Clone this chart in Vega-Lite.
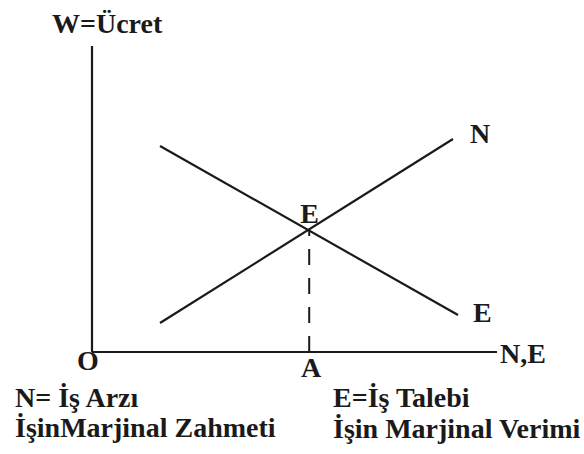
{
  "$schema": "https://vega.github.io/schema/vega-lite/v6.json",
  "width": 584,
  "height": 454,
  "autosize": {"type": "fit", "contains": "padding"},
  "padding": 0,
  "background": "white",
  "config": {"view": {"stroke": null}},
  "datasets": {
    "segments": [
      {"name": "W axis", "x1": 0, "y1": 0, "x2": 0, "y2": 7.65},
      {"name": "N,E axis", "x1": 0, "y1": 0, "x2": 10.125, "y2": 0},
      {"name": "N", "x1": 1.7, "y1": 0.725, "x2": 9.025, "y2": 5.325},
      {"name": "E", "x1": 1.7, "y1": 5.15, "x2": 9.15, "y2": 0.925}
    ],
    "guide": [
      {"name": "A", "x1": 5.43, "y1": 0, "x2": 5.43, "y2": 3.05}
    ],
    "labels": [
      {"text": "W=Ücret", "x": -1.0, "y": 7.975, "align": "left"},
      {"text": "N", "x": 9.45, "y": 5.225, "align": "left"},
      {"text": "E", "x": 9.525, "y": 0.75, "align": "left"},
      {"text": "E", "x": 5.44, "y": 3.225, "align": "center"},
      {"text": "N,E", "x": 10.2, "y": -0.275, "align": "left"},
      {"text": "O", "x": -0.1, "y": -0.45, "align": "center"},
      {"text": "A", "x": 5.475, "y": -0.625, "align": "center"},
      {"text": "N= İş Arzı", "x": -1.925, "y": -1.375, "align": "left"},
      {"text": "İşinMarjinal Zahmeti", "x": -1.925, "y": -2.125, "align": "left"},
      {"text": "E=İş Talebi", "x": 6.025, "y": -1.375, "align": "left"},
      {"text": "İşin Marjinal Verimi", "x": 6.025, "y": -2.15, "align": "left"}
    ]
  },
  "layer": [
    {
      "data": {"name": "segments"},
      "mark": {"type": "rule", "stroke": "#1a1a1a", "strokeWidth": 2.2},
      "encoding": {
        "x": {"field": "x1", "type": "quantitative", "scale": {"domain": [-2.3, 12.3], "nice": false, "zero": false}, "axis": null},
        "y": {"field": "y1", "type": "quantitative", "scale": {"domain": [-2.55, 8.8], "nice": false, "zero": false}, "axis": null},
        "x2": {"field": "x2"},
        "y2": {"field": "y2"}
      }
    },
    {
      "data": {"name": "guide"},
      "mark": {"type": "rule", "stroke": "#1a1a1a", "strokeWidth": 2, "strokeDash": [16, 13]},
      "encoding": {
        "x": {"field": "x1", "type": "quantitative"},
        "y": {"field": "y1", "type": "quantitative"},
        "x2": {"field": "x2"},
        "y2": {"field": "y2"}
      }
    },
    {
      "data": {"name": "labels"},
      "transform": [{"filter": "datum.align === 'left'"}],
      "mark": {"type": "text", "align": "left", "font": "Liberation Serif", "fontWeight": "bold", "fontSize": 28, "baseline": "alphabetic", "color": "#1a1a1a"},
      "encoding": {
        "x": {"field": "x", "type": "quantitative"},
        "y": {"field": "y", "type": "quantitative"},
        "text": {"field": "text"}
      }
    },
    {
      "data": {"name": "labels"},
      "transform": [{"filter": "datum.align === 'center'"}],
      "mark": {"type": "text", "align": "center", "font": "Liberation Serif", "fontWeight": "bold", "fontSize": 28, "baseline": "alphabetic", "color": "#1a1a1a"},
      "encoding": {
        "x": {"field": "x", "type": "quantitative"},
        "y": {"field": "y", "type": "quantitative"},
        "text": {"field": "text"}
      }
    }
  ]
}
